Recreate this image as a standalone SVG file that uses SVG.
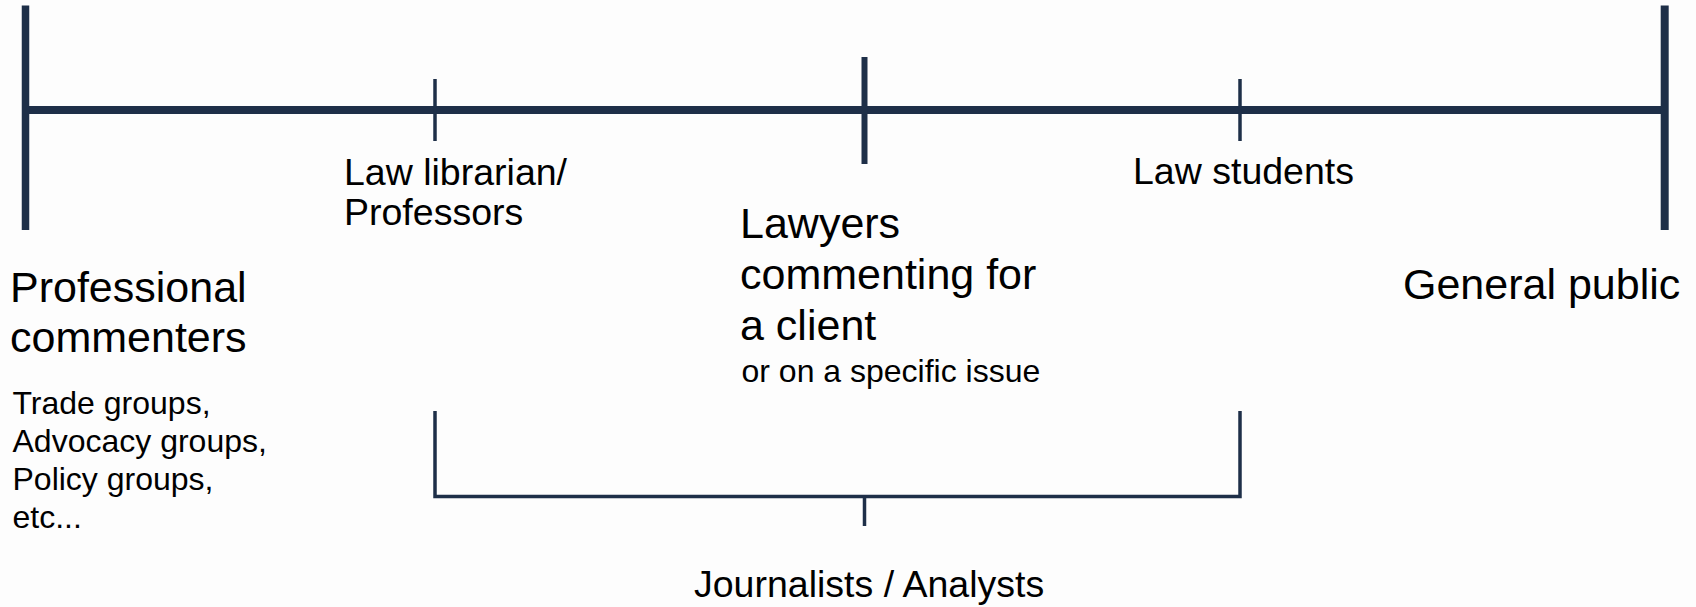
<svg xmlns="http://www.w3.org/2000/svg" width="1696" height="607" viewBox="0 0 1696 607">
  <style>
    .ln { stroke: #1e2f48; fill: none; stroke-linecap: butt; }
    .t { font-family: "Liberation Sans", Arial, Helvetica, sans-serif; fill: #000; }
    .big { font-size: 43px; }
    .mid { font-size: 37.5px; }
    .sm { font-size: 32px; }
  </style>
  <rect width="1696" height="607" fill="#fdfdfd"/>
  <g id="connectors">
    <line class="ln" x1="25" y1="110" x2="1665" y2="110" stroke-width="8"/>
    <line class="ln" x1="25.5" y1="5.5" x2="25.5" y2="230" stroke-width="7.5"/>
    <line class="ln" x1="1664.7" y1="5.5" x2="1664.7" y2="230" stroke-width="8"/>
    <line class="ln" x1="435" y1="79" x2="435" y2="141" stroke-width="3.5"/>
    <line class="ln" x1="864.5" y1="57" x2="864.5" y2="164" stroke-width="6"/>
    <line class="ln" x1="1240" y1="79" x2="1240" y2="141" stroke-width="3.5"/>
    <path class="ln" d="M435 411 V496.5 H1240 V411" stroke-width="3.5"/>
    <line class="ln" x1="864.5" y1="496.5" x2="864.5" y2="526" stroke-width="3.5"/>
  </g>
  <g id="professional-commenters">
    <text class="t big" x="10" y="302">Professional</text>
    <text class="t big" x="10" y="352">commenters</text>
    <text class="t sm" x="12.5" y="414">Trade groups,</text>
    <text class="t sm" x="12.5" y="452">Advocacy groups,</text>
    <text class="t sm" x="12.5" y="489.5">Policy groups,</text>
    <text class="t sm" x="12.5" y="527.5">etc...</text>
  </g>
  <g id="law-librarian">
    <text class="t mid" x="344" y="185">Law librarian/</text>
    <text class="t mid" x="344" y="225">Professors</text>
  </g>
  <g id="lawyers">
    <text class="t big" x="740" y="238">Lawyers</text>
    <text class="t big" x="740" y="289">commenting for</text>
    <text class="t big" x="740" y="340">a client</text>
    <text class="t sm" x="741.5" y="381.5">or on a specific issue</text>
  </g>
  <g id="law-students">
    <text class="t mid" x="1133" y="184">Law students</text>
  </g>
  <g id="general-public">
    <text class="t big" x="1403" y="298.5">General public</text>
  </g>
  <g id="journalists">
    <text class="t mid" x="694" y="597">Journalists / Analysts</text>
  </g>
</svg>
